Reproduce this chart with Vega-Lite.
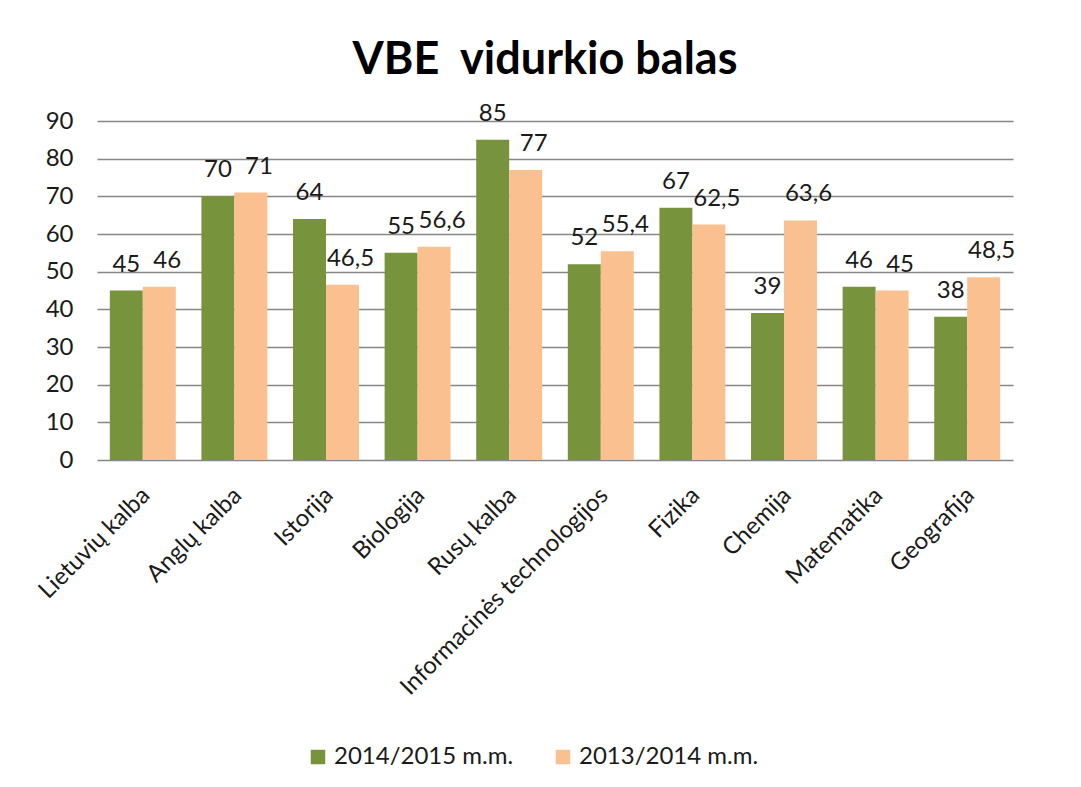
{
  "$schema": "https://vega.github.io/schema/vega-lite/v6.json",
  "autosize": {"type": "none"},
  "padding": {"left": 97, "top": 121, "right": 68, "bottom": 327},
  "width": 916,
  "height": 339,
  "background": "#ffffff",
  "title": {
    "text": "VBE\u00a0\u00a0vidurkio balas",
    "font": "Lato",
    "fontSize": 45,
    "fontWeight": "bold",
    "color": "#000000",
    "anchor": "middle",
    "frame": "group",
    "dx": -10,
    "offset": 19
  },
  "data": {
    "values": [
      {"subject": "Lietuvių kalba", "year": "2014/2015 m.m.", "value": 45},
      {"subject": "Lietuvių kalba", "year": "2013/2014 m.m.", "value": 46},
      {"subject": "Anglų kalba", "year": "2014/2015 m.m.", "value": 70},
      {"subject": "Anglų kalba", "year": "2013/2014 m.m.", "value": 71},
      {"subject": "Istorija", "year": "2014/2015 m.m.", "value": 64},
      {"subject": "Istorija", "year": "2013/2014 m.m.", "value": 46.5},
      {"subject": "Biologija", "year": "2014/2015 m.m.", "value": 55},
      {"subject": "Biologija", "year": "2013/2014 m.m.", "value": 56.6},
      {"subject": "Rusų kalba", "year": "2014/2015 m.m.", "value": 85},
      {"subject": "Rusų kalba", "year": "2013/2014 m.m.", "value": 77},
      {"subject": "Informacinės technologijos", "year": "2014/2015 m.m.", "value": 52},
      {"subject": "Informacinės technologijos", "year": "2013/2014 m.m.", "value": 55.4},
      {"subject": "Fizika", "year": "2014/2015 m.m.", "value": 67},
      {"subject": "Fizika", "year": "2013/2014 m.m.", "value": 62.5},
      {"subject": "Chemija", "year": "2014/2015 m.m.", "value": 39},
      {"subject": "Chemija", "year": "2013/2014 m.m.", "value": 63.6},
      {"subject": "Matematika", "year": "2014/2015 m.m.", "value": 46},
      {"subject": "Matematika", "year": "2013/2014 m.m.", "value": 45},
      {"subject": "Geografija", "year": "2014/2015 m.m.", "value": 38},
      {"subject": "Geografija", "year": "2013/2014 m.m.", "value": 48.5}
    ]
  },
  "encoding": {
    "x": {
      "field": "subject",
      "type": "nominal",
      "sort": null,
      "title": null,
      "scale": {"paddingInner": 0.28, "paddingOuter": 0.14},
      "axis": {
        "labelAngle": -45,
        "labelFont": "Lato",
        "labelFontSize": 24,
        "labelColor": "#1a1a1a",
        "labelPadding": 23,
        "labelOffset": -5,
        "ticks": false,
        "tickSize": 0,
        "domain": false,
        "labelLimit": 0
      }
    },
    "xOffset": {
      "field": "year",
      "type": "nominal",
      "sort": ["2014/2015 m.m.", "2013/2014 m.m."],
      "scale": {"paddingInner": 0, "paddingOuter": 0}
    },
    "y": {
      "field": "value",
      "type": "quantitative",
      "title": null,
      "scale": {"domain": [0, 90], "nice": false},
      "axis": {
        "values": [0, 10, 20, 30, 40, 50, 60, 70, 80, 90],
        "labelFont": "Lato",
        "labelFontSize": 24,
        "labelColor": "#1a1a1a",
        "labelPadding": 24,
        "ticks": false,
        "tickSize": 0,
        "domain": false,
        "grid": true,
        "gridColor": "#868686",
        "gridWidth": 1.6
      }
    },
    "color": {
      "field": "year",
      "type": "nominal",
      "sort": ["2014/2015 m.m.", "2013/2014 m.m."],
      "scale": {"domain": ["2014/2015 m.m.", "2013/2014 m.m."], "range": ["#77933C", "#FAC090"]},
      "legend": {
        "title": null,
        "orient": "none",
        "legendX": 209,
        "legendY": 624,
        "direction": "horizontal",
        "symbolType": "square",
        "symbolSize": 210,
        "symbolStrokeWidth": 0,
        "labelFont": "Lato",
        "labelFontSize": 24,
        "labelColor": "#1a1a1a",
        "labelOffset": 4,
        "labelLimit": 0,
        "columnPadding": 37
      }
    }
  },
  "layer": [
    {"mark": {"type": "bar"}},
    {
      "transform": [{"filter": "datum.year === '2014/2015 m.m.'"}],
      "mark": {"type": "text", "baseline": "middle", "dy": -26, "font": "Lato", "fontSize": 24, "color": "#1a1a1a"},
      "encoding": {
        "text": {"field": "value", "type": "quantitative", "format": ".3~r"},
        "color": {"value": "#1a1a1a"}
      }
    },
    {
      "transform": [{"filter": "datum.year === '2013/2014 m.m.'"}],
      "mark": {"type": "text", "baseline": "middle", "dy": -26, "dx": 8, "font": "Lato", "fontSize": 24, "color": "#1a1a1a"},
      "encoding": {
        "text": {"field": "value", "type": "quantitative", "format": ".3~r"},
        "color": {"value": "#1a1a1a"}
      }
    }
  ],
  "config": {
    "view": {"stroke": null},
    "locale": {"number": {"decimal": ",", "thousands": " ", "grouping": [3], "currency": ["", ""]}}
  }
}
